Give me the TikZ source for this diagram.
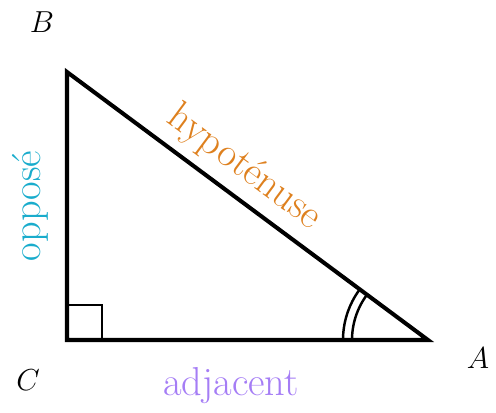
\documentclass[tikz,border=0pt]{standalone}
\usepackage{amsmath,amssymb}
\usepackage{xcolor}
\usepackage{tikz}
\usetikzlibrary{positioning,calc}

\definecolor{hypcol}{RGB}{222,128,30}
\definecolor{oppcol}{RGB}{25,172,204}
\definecolor{adjcol}{RGB}{165,125,245}

\begin{document}
\begin{tikzpicture}[x=0.02cm, y=-0.02cm,
    side/.style={line width=2.3pt, line join=miter},
    vtx/.style={font=\fontsize{19}{22}\selectfont, inner sep=0pt},
    lbl/.style={font=\fontsize{23}{26}\selectfont, inner sep=0pt}]
  \useasboundingbox (0,0) rectangle (496,412);
  \coordinate (C) at (67,340);
  \coordinate (B) at (67,72);
  \coordinate (A) at (428,340);
  % the triangle
  \draw[side] (B) -- (C) -- (A) -- cycle;
  \draw[line width=1.4pt] (67,305) -- (102,305) -- (102,340);
  \draw[line width=1.4pt] ($(A)+(-76,0)$) arc (180:216.6:76);
  \draw[line width=1.4pt] ($(A)+(-85,0)$) arc (180:216.6:85);
  % vertices
  \node[vtx] (nB) at (42,22) {$B$};
  \node[vtx] (nC) at (28,380) {$C$};
  \node[vtx] (nA) at (478,358) {$A$};
  % sides
  \node[lbl, text=hypcol, rotate=-36.6] (hyp) at (244,168) {hypoténuse};
  \node[lbl, text=oppcol, rotate=90] (opp) at (30,206) {opposé};
  \node[lbl, text=adjcol] (adj) at (231,386) {adjacent};
\end{tikzpicture}
\end{document}
